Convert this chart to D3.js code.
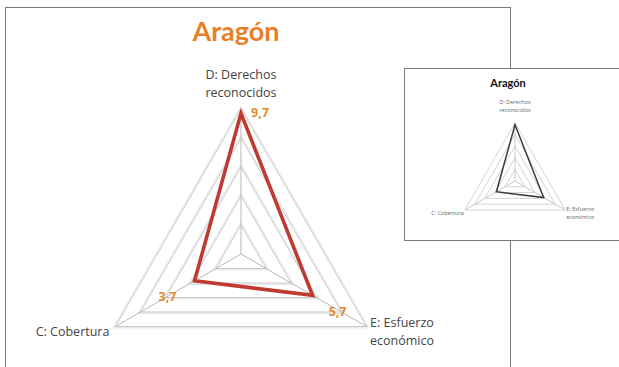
<!DOCTYPE html>
<html>
<head>
<meta charset="utf-8">
<script src="https://cdn.jsdelivr.net/npm/d3@7"></script>
<style>
	body{margin:0;background:#fff;}
	svg{display:block;font-family:'Open Sans',sans-serif;}
</style>
</head>
<body>
<svg id="chart" width="619" height="367"></svg>
<script>
var title = 'Aragón';
var axisLabels = [['D: Derechos', 'reconocidos'], ['E: Esfuerzo', 'económico'], ['C: Cobertura']];
var values = [9.7, 5.7, 3.7];
var valueLabels = ['9,7', '5,7', '3,7'];
var levels = [2, 4, 6, 8, 10];
var maxValue = 10;

var svg = d3.select('#chart');

// big chart and the small copy in the corner
var main = {
	cx: 241, cy: 254, r: 145,
	ring: '#c9c9c9', ring2: '#e2e2e2', spoke: '#b8b8b8',
	line: '#bf3a30', lineWidth: 3.6,
	font: 12.5, lh: 18, labelColor: '#444',
	labelPos: [{dx: 0, dy: -30, anchor: 'middle'}, {dx: 3.5, dy: 0.5, anchor: 'start'}, {dx: -6, dy: 9.5, anchor: 'end'}],
	valuePos: [[19, 4], [25, 21], [-27, 20]]
};
var inset = {
	cx: 515, cy: 181, r: 58,
	ring: '#d4d4d4', ring2: null, spoke: '#c8c8c8',
	line: '#3a3a3a', lineWidth: 1.5,
	font: 5.5, lh: 8, labelColor: '#666',
	labelPos: [{dx: 0, dy: -19, anchor: 'middle'}, {dx: 1, dy: 1, anchor: 'start'}, {dx: -1, dy: 5, anchor: 'end'}],
	valuePos: null
};

// frames
svg.append('rect')
	.attr('x', 5.5).attr('y', 7.5)
	.attr('width', 505).attr('height', 400)
	.attr('fill', '#fff')
	.attr('stroke', '#7a7a7a');

svg.append('text')
	.attr('x', 236).attr('y', 41)
	.attr('text-anchor', 'middle')
	.style('font-family', 'Lato, sans-serif')
	.style('font-weight', 'bold')
	.style('font-size', '27px')
	.attr('fill', '#e8802a')
	.text(title);

draw_radar(svg.append('g'), main);

svg.append('rect')
	.attr('x', 404.5).attr('y', 68.5)
	.attr('width', 230).attr('height', 172)
	.attr('fill', '#fff')
	.attr('stroke', '#7a7a7a');

svg.append('text')
	.attr('x', 508).attr('y', 87)
	.attr('text-anchor', 'middle')
	.style('font-family', 'Lato, sans-serif')
	.style('font-weight', 'bold')
	.style('font-size', '11px')
	.attr('fill', '#111')
	.text(title);

draw_radar(svg.append('g'), inset);

function draw_radar(g, o){
	var rScale = d3.scaleLinear().domain([0, maxValue]).range([0, o.r]);
	var angle = d3.scaleLinear().domain([0, values.length]).range([0, 2 * Math.PI]);
	var idx = d3.range(values.length);
	var pt = function(i, v){
		var a = angle(i), rr = rScale(v);
		return [o.cx + rr * Math.sin(a), o.cy - rr * Math.cos(a)];
	};
	var ringLine = function(off){
		return d3.lineRadial()
			.angle(function(i){ return angle(i) })
			.radius(function(i){ return this_r + off })
			.curve(d3.curveLinearClosed);
	};
	var this_r;
	var grid = g.append('g').attr('transform', 'translate(' + o.cx + ',' + o.cy + ')');

	levels.forEach(function(l){
		this_r = rScale(l);
		if (o.ring2) {
			grid.append('path')
				.attr('d', ringLine(2.6)(idx))
				.attr('fill', 'none')
				.attr('stroke', o.ring2)
				.attr('stroke-width', 1);
		}
		grid.append('path')
			.attr('d', ringLine(0)(idx))
			.attr('fill', 'none')
			.attr('stroke', o.ring)
			.attr('stroke-width', 1);
	});

	g.selectAll('.spoke')
		.data(idx)
		.enter()
		.append('line')
		.attr('class', 'spoke')
		.attr('x1', o.cx).attr('y1', o.cy)
		.attr('x2', function(i){ return pt(i, maxValue)[0] })
		.attr('y2', function(i){ return pt(i, maxValue)[1] })
		.attr('stroke', o.spoke)
		.attr('stroke-width', 1);

	g.append('path')
		.attr('d', d3.line().curve(d3.curveLinearClosed)(idx.map(function(i){ return pt(i, values[i]) })))
		.attr('fill', 'none')
		.attr('stroke', o.line)
		.attr('stroke-width', o.lineWidth)
		.attr('stroke-linejoin', 'miter');

	var labels = g.selectAll('.axis-label')
		.data(idx)
		.enter()
		.append('text')
		.attr('class', 'axis-label')
		.attr('text-anchor', function(i){ return o.labelPos[i].anchor })
		.style('font-size', o.font + 'px')
		.attr('fill', o.labelColor);
	labels.each(function(i){
		var p = pt(i, maxValue);
		var t = d3.select(this);
		axisLabels[i].forEach(function(s, k){
			t.append('tspan')
				.attr('x', p[0] + o.labelPos[i].dx)
				.attr('y', p[1] + o.labelPos[i].dy + k * o.lh)
				.text(s);
		});
	});

	if (o.valuePos) {
		g.selectAll('.value-label')
			.data(idx)
			.enter()
			.append('text')
			.attr('class', 'value-label')
			.attr('text-anchor', 'middle')
			.attr('x', function(i){ return pt(i, values[i])[0] + o.valuePos[i][0] })
			.attr('y', function(i){ return pt(i, values[i])[1] + o.valuePos[i][1] })
			.style('font-size', '12.5px')
			.style('font-weight', 'bold')
			.attr('fill', '#e48a2c')
			.text(function(i){ return valueLabels[i] });
	}
}
</script>
</body>
</html>
